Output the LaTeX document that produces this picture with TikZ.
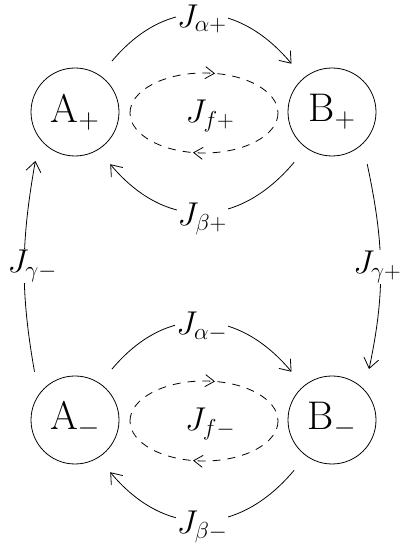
\RequirePackage{fix-cm}
\documentclass[tikz,border=0pt]{standalone}
\usepackage{fontspec}
\usetikzlibrary{arrows.meta,decorations.markings}
\begin{document}
\begin{tikzpicture}[x=1pt,y=1pt,
  state/.style={circle,draw,line width=0.8pt,minimum size=88pt,inner sep=0pt,outer sep=19pt,font=\fontsize{40}{44}\selectfont},
  flux/.style={line width=0.8pt,-{Straight Barb[length=10pt,width=15pt]}},
  lab/.style={fill=white,inner sep=1pt,font=\fontsize{33}{36}\selectfont},
  dashloop/.style={line width=0.8pt,dash pattern=on 8pt off 7pt,postaction={decorate},
    decoration={markings,mark=at position 0.56 with {\arrow{Straight Barb[length=9pt,width=12pt]}}}},
]
\clip (0,0) rectangle (401,553);
% states
\node[state] (Ap) at (75,441) {$\mathrm{A}_+$};
\node[state] (Bp) at (332,441) {$\mathrm{B}_+$};
\node[state] (Am) at (75,133) {$\mathrm{A}_-$};
\node[state] (Bm) at (332,133) {$\mathrm{B}_-$};
% fast fluxes (dashed loops)
\coordinate (fpc) at (204,440);
\coordinate (fmc) at (204,132);
\node[lab,fill=none] (fp) at (210,437) {$J_{f+}$};
\node[lab,fill=none] (fm) at (210,129) {$J_{f-}$};
\draw[dashloop] ([xshift=-74pt]fpc) arc[start angle=180,end angle=0,x radius=74,y radius=40];
\draw[dashloop] ([xshift=74pt]fpc) arc[start angle=0,end angle=-180,x radius=74,y radius=40];
\draw[dashloop] ([xshift=-74pt]fmc) arc[start angle=180,end angle=0,x radius=74,y radius=40];
\draw[dashloop] ([xshift=74pt]fmc) arc[start angle=0,end angle=-180,x radius=74,y radius=40];
% alpha and beta fluxes
\draw[flux] (Ap.54) to[out=50,in=130,looseness=1.2] node[lab,yshift=-5pt] {$J_{\alpha+}$} (Bp.130);
\draw[flux] (Bp.233) to[out=230,in=310,looseness=1.2] node[lab,yshift=-6pt] {$J_{\beta+}$} (Ap.304);
\draw[flux] (Am.54) to[out=50,in=130,looseness=1.2] node[lab,yshift=-5pt] {$J_{\alpha-}$} (Bm.130);
\draw[flux] (Bm.233) to[out=230,in=310,looseness=1.2] node[lab,yshift=-6pt] {$J_{\beta-}$} (Am.304);
% gamma fluxes
\draw[flux] (Am.130) to[out=100,in=260] node[lab,xshift=8pt] {$J_{\gamma-}$} (Ap.231);
\draw[flux] (Bp.304) to[out=282,in=78] node[lab,anchor=east,xshift=22pt] {$J_{\gamma+}$} (Bm.54);
\end{tikzpicture}
\end{document}
